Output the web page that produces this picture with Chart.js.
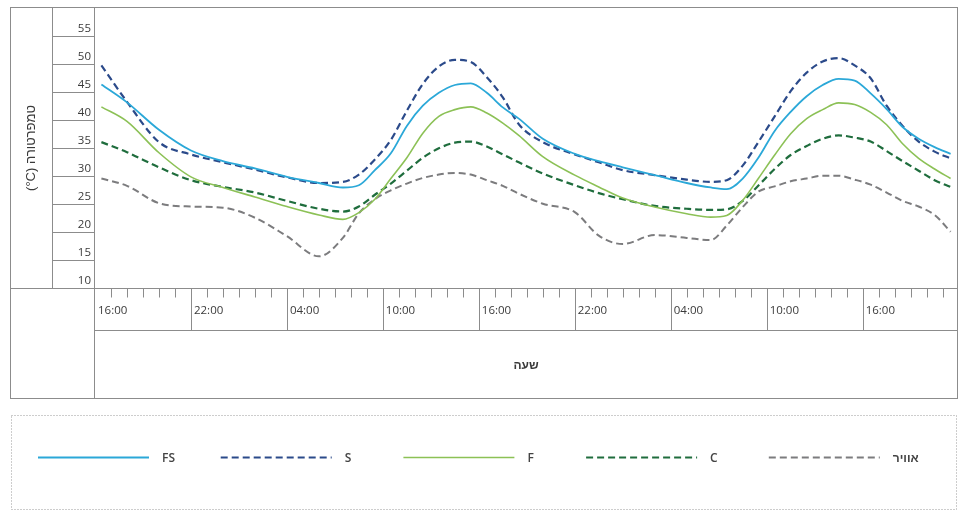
<!DOCTYPE html>
<html lang="he">
<head>
<meta charset="utf-8">
<script src="https://cdn.jsdelivr.net/npm/chart.js@4.4.1/dist/chart.umd.min.js"></script>
<style>
  html, body { margin: 0; padding: 0; background: #fff; }
  #wrap { width: 962px; height: 517px; }
</style>
</head>
<body>
<div id="wrap"><canvas id="grafico"></canvas></div>
<script>

// horas desde as 16:00 do primeiro dia
const horas = [0.4, 2, 4, 6, 8, 10, 12, 14, 15.5, 16.5, 17.5, 18.5, 19.5, 20.5, 21.5, 22.5, 23.5, 24.5, 25.5, 26.5,
  28, 30, 31.5, 33, 35, 37, 38.5, 39.5, 40.5, 41.5, 42.5, 43.5, 44.5, 45.5, 46.5, 47.5, 48.5, 49.5, 50.5, 51.5, 52.5, 53.5];

const serieFS = [45.1, 41.9, 37.0, 33.3, 31.4, 30.1, 28.6, 27.5, 26.7, 27.1, 29.8, 32.8, 37.7, 41.3, 43.6, 45.0, 45.3, 43.6, 41.0, 39.0,
  35.4, 32.7, 31.4, 30.3, 28.9, 27.5, 26.7, 26.4, 28.3, 32.1, 36.8, 40.2, 43.0, 45.0, 46.1, 45.8, 43.5, 40.7, 37.5, 35.4, 33.9, 32.7];

const serieS = [48.5, 42.0, 34.8, 32.6, 31.2, 29.9, 28.5, 27.5, 27.7, 29.0, 31.7, 35.2, 40.4, 45.2, 48.3, 49.5, 49.1, 46.4, 42.8, 38.0,
  34.8, 32.6, 31.2, 29.8, 28.9, 28.1, 27.7, 28.0, 30.6, 34.9, 39.4, 43.9, 47.2, 49.2, 49.8, 48.5, 46.2, 41.3, 37.7, 34.9, 33.1, 31.9];

const serieF = [41.1, 38.5, 32.9, 28.6, 26.7, 25.0, 23.3, 21.8, 21.0, 22.2, 24.6, 28.3, 32.0, 36.4, 39.4, 40.6, 41.1, 40.0, 38.2, 36.0,
  32.2, 28.9, 26.8, 24.8, 23.2, 22.0, 21.4, 21.7, 24.4, 28.4, 32.5, 36.3, 39.0, 40.6, 41.8, 41.5, 40.1, 37.9, 34.5, 31.9, 30.0, 28.3];

const serieC = [34.8, 33.0, 30.3, 28.0, 26.8, 25.8, 24.3, 22.9, 22.4, 23.3, 25.4, 27.4, 29.7, 32.0, 33.7, 34.7, 34.9, 34.0, 32.6, 31.2,
  29.2, 27.1, 25.7, 24.6, 23.4, 22.9, 22.7, 22.8, 24.3, 27.1, 30.0, 32.5, 34.1, 35.4, 36.0, 35.6, 34.9, 33.2, 31.4, 29.7, 28.0, 26.8];

const serieAr = [28.3, 27.0, 23.9, 23.3, 23.1, 21.3, 18.0, 14.4, 17.7, 22.1, 24.6, 26.2, 27.4, 28.4, 29.0, 29.3, 29.0, 28.0, 27.0, 25.6,
  23.8, 22.3, 18.1, 16.6, 18.2, 17.7, 17.3, 19.9, 23.2, 26.0, 26.9, 27.8, 28.3, 28.8, 28.8, 28.1, 27.2, 25.8, 24.3, 23.3, 21.8, 18.8];

const xTicks = [0, 6, 12, 18, 24, 30, 36, 42, 48];
const xLabels = ["16:00", "22:00", "04:00", "10:00", "16:00", "22:00", "04:00", "10:00", "16:00"];
const yTicks = [10, 15, 20, 25, 30, 35, 40, 45, 50, 55];
const yMin = 8.75, yMax = 58.75, xMax = 53.9;

// \u200E mantém "°C" na ordem certa dentro do texto rtl
const tituloY = "טמפרטורה (\u200E°C)";
const tituloX = "שעה";

const fonte = "'Open Sans', 'DejaVu Sans', sans-serif";
const fonteHeb = "'Liberation Sans', 'DejaVu Sans', sans-serif";
const corLinha = "#8c8c8c";
const corTexto = "#3a3a3a";

function pontos(serie) {
  return horas.map((h, i) => ({ x: h, y: serie[i] }));
}

// desenha a "tabela" em volta do grafico, os titulos e a legenda
const tabela = {
  id: "tabela",
  beforeDraw(chart) {
    const ctx = chart.ctx;
    ctx.save();
    ctx.fillStyle = "#fff";
    ctx.fillRect(0, 0, chart.width, chart.height);
    ctx.restore();
  },
  afterDraw(chart) {
    const { ctx, chartArea: a, scales: { x, y } } = chart;
    const px = v => Math.round(v) + 0.5;
    const linha = (x1, y1, x2, y2) => { ctx.beginPath(); ctx.moveTo(x1, y1); ctx.lineTo(x2, y2); ctx.stroke(); };

    ctx.save();
    ctx.strokeStyle = corLinha;
    ctx.lineWidth = 1;

    const L = 10.5, R = px(a.right), T = px(a.top) - 1, B = 398.5;
    const esq = px(a.left) - 1, base = px(a.bottom), meio = 330.5;

    ctx.strokeRect(L, T, R - L, B - T);
    linha(52.5, T, 52.5, base);
    linha(esq, T, esq, B);
    linha(L, base, R, base);
    linha(esq, meio, R, meio);

    // linhas da coluna dos valores
    yTicks.forEach(v => {
      const py = px(y.getPixelForValue(v - 1.25));
      linha(52.5, py, esq, py);
    });

    // separadores de 6 em 6 horas e marcas de hora
    xTicks.slice(1).forEach(h => {
      const p = px(x.getPixelForValue(h));
      linha(p, base, p, meio);
    });
    for (let h = 1; h < xMax; h++) {
      if (h % 6 === 0) continue;
      const p = px(x.getPixelForValue(h));
      linha(p, base, p, base + 9);
    }

    // titulos
    ctx.fillStyle = corTexto;
    ctx.textAlign = "center";
    ctx.textBaseline = "middle";
    ctx.direction = "rtl";
    ctx.font = "bold 12px " + fonteHeb;
    ctx.fillText(tituloX, (a.left + a.right) / 2, 366);

    ctx.save();
    ctx.font = "13px " + fonteHeb;
    ctx.translate(31, (a.top + a.bottom) / 2);
    ctx.rotate(-Math.PI / 2);
    ctx.fillText(tituloY, 0, 0);
    ctx.restore();

    // legenda
    ctx.setLineDash([1, 2]);
    ctx.strokeStyle = "#9a9a9a";
    ctx.strokeRect(11.5, 415.5, 945, 94);

    ctx.textAlign = "left";
    ctx.direction = "ltr";
    ctx.fillStyle = "#444";
    const legY = 457.5;
    chart.data.datasets.forEach((ds, i) => {
      const x0 = 38 + i * 182.7;
      ctx.strokeStyle = ds.borderColor;
      ctx.lineWidth = ds.borderWidth;
      ctx.setLineDash(ds.borderDash || []);
      linha(x0, legY, x0 + 111, legY);
      ctx.setLineDash([]);
      ctx.font = /[\u0590-\u05FF]/.test(ds.label) ? "bold 12px " + fonteHeb : "600 12px " + fonte;
      ctx.fillText(ds.label, x0 + 124, legY + 1);
    });

    ctx.restore();
  }
};

const grafico = new Chart(document.getElementById("grafico"), {
  type: "line",
  data: {
    datasets: [
      { label: "FS", data: pontos(serieFS), borderColor: "#2ba8d8", borderWidth: 1.8 },
      { label: "S", data: pontos(serieS), borderColor: "#2b4a8a", borderWidth: 2.2, borderDash: [7, 4] },
      { label: "F", data: pontos(serieF), borderColor: "#8cc156", borderWidth: 1.6 },
      { label: "C", data: pontos(serieC), borderColor: "#1f6d3d", borderWidth: 2.2, borderDash: [7, 4] },
      { label: "אוויר", data: pontos(serieAr), borderColor: "#7c7c7e", borderWidth: 2, borderDash: [7, 4] }
    ]
  },
  options: {
    responsive: true,
    maintainAspectRatio: false,
    animation: false,
    layout: { padding: { top: 8, right: 5, left: 0, bottom: 0 } },
    elements: {
      point: { radius: 0 },
      line: { cubicInterpolationMode: "monotone", fill: false }
    },
    plugins: { legend: { display: false }, tooltip: { enabled: false } },
    scales: {
      x: {
        type: "linear",
        min: 0,
        max: xMax,
        grid: { display: false, drawTicks: false },
        border: { display: false },
        afterBuildTicks: s => { s.ticks = xTicks.map(v => ({ value: v })); },
        afterFit: s => { s.height = 229; s.paddingLeft = 0; s.paddingRight = 0; },
        ticks: {
          autoSkip: false,
          maxRotation: 0,
          align: "start",
          labelOffset: 3,
          padding: 16,
          color: corTexto,
          font: { size: 11.5, family: fonte },
          callback: (v, i) => xLabels[i]
        }
      },
      y: {
        min: yMin,
        max: yMax,
        grid: { display: false, drawTicks: false },
        border: { display: false },
        afterBuildTicks: s => { s.ticks = yTicks.map(v => ({ value: v })); },
        afterFit: s => { s.width = 95; s.paddingTop = 0; s.paddingBottom = 0; },
        ticks: { padding: 4, color: corTexto, font: { size: 11.5, family: fonte } }
      }
    }
  },
  plugins: [tabela]
});
</script>
</body>
</html>
